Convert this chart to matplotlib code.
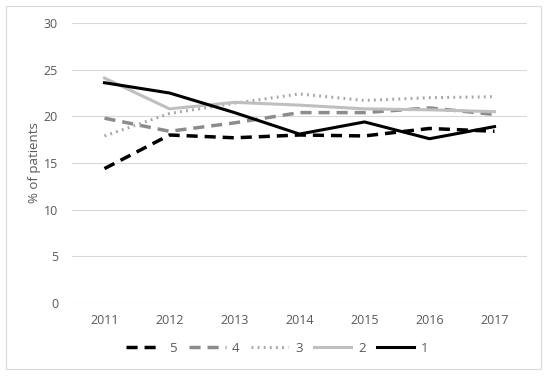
import matplotlib.pyplot as plt
from matplotlib.patches import Rectangle

years = ['2011', '2012', '2013', '2014', '2015', '2016', '2017']
s5 = [14.4, 18.0, 17.7, 18.0, 17.9, 18.7, 18.4]
s4 = [19.8, 18.4, 19.3, 20.4, 20.4, 20.9, 20.2]
s3 = [17.9, 20.3, 21.4, 22.4, 21.7, 22.0, 22.1]
s2 = [24.1, 20.8, 21.5, 21.2, 20.8, 20.7, 20.5]
s1 = [23.6, 22.5, 20.4, 18.1, 19.4, 17.6, 18.9]

plt.rcParams['font.family'] = ['Open Sans', 'DejaVu Sans']
tc = '#595959'

fig = plt.figure(figsize=(5.5, 3.77), dpi=100)
ax = fig.add_axes([72 / 550, 1 - 303 / 377, 455 / 550, 280 / 377])
fig.patches.append(Rectangle((6 / 550, 8 / 377), 535 / 550, 363 / 377,
                             transform=fig.transFigure, fill=False,
                             edgecolor='#d9d9d9', lw=0.8))

x = range(len(years))
ax.plot(x, s5, color='black', lw=2.5, ls=(0, (3.2, 2.0)), label='5')
ax.plot(x, s4, color='#8c8c8c', lw=2.5, ls=(0, (3.2, 2.0)), label='4')
ax.plot(x, s3, color='#a6a6a6', lw=2.2, ls=(0, (0.6, 1.4)), label='3')
ax.plot(x, s2, color='#bfbfbf', lw=2.2, label='2')
ax.plot(x, s1, color='black', lw=2.2, label='1')

ax.set_xlim(-0.5, 6.5)
ax.set_ylim(0, 30)
ax.set_yticks(range(0, 31, 5))
ax.set_xticks(list(x))
ax.set_xticklabels(years)
ax.grid(axis='y', color='#d9d9d9', lw=0.8)
ax.set_axisbelow(True)
for sp in ax.spines.values():
    sp.set_visible(False)
ax.tick_params(length=0, colors=tc, labelsize=9, pad=8)
ax.tick_params(axis='y', pad=10)
ax.set_ylabel('% of patients', color=tc, fontsize=9.5, labelpad=2)

fig.legend(loc='center', bbox_to_anchor=(277 / 550, 1 - 348 / 377), ncol=5,
           frameon=False, fontsize=9.5, labelcolor=tc, handlelength=2.8,
           columnspacing=0.9, handletextpad=0.5)

plt.savefig('out.png', dpi=100)
